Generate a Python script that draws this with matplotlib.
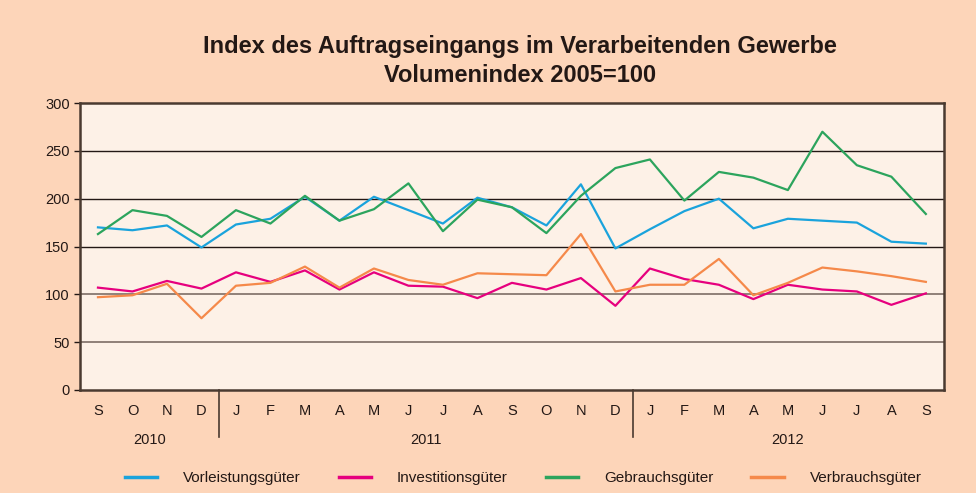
import matplotlib.pyplot as plt
import matplotlib.transforms as mtransforms

plt.rcParams['font.family'] = ['Liberation Sans', 'DejaVu Sans']

monate = ['S', 'O', 'N', 'D',
          'J', 'F', 'M', 'A', 'M', 'J', 'J', 'A', 'S', 'O', 'N', 'D',
          'J', 'F', 'M', 'A', 'M', 'J', 'J', 'A', 'S']
jahre = ['2010', '2011', '2012']

vorleistung = [170, 167, 172, 149, 173, 179, 202, 177, 202, 188, 174, 201, 191, 172, 215, 148,
               168, 187, 200, 169, 179, 177, 175, 155, 153]
investition = [107, 103, 114, 106, 123, 113, 125, 105, 123, 109, 108, 96, 112, 105, 117, 88,
               127, 116, 110, 95, 110, 105, 103, 89, 101]
gebrauch = [163, 188, 182, 160, 188, 174, 203, 177, 189, 216, 166, 199, 191, 164, 203, 232,
            241, 198, 228, 222, 209, 270, 235, 223, 184]
verbrauch = [97, 99, 111, 75, 109, 112, 129, 107, 127, 115, 110, 122, 121, 120, 163, 103,
             110, 110, 137, 99, 112, 128, 124, 119, 113]

serien = [
    ('Vorleistungsgüter', vorleistung, '#1aa3dc'),
    ('Investitionsgüter', investition, '#e6007e'),
    ('Gebrauchsgüter', gebrauch, '#2ca45d'),
    ('Verbrauchsgüter', verbrauch, '#f5894a'),
]

fig = plt.figure(figsize=(9.76, 4.93), dpi=100, facecolor='#fdd5b9')
ax = fig.add_axes([0.082, 0.209, 0.885, 0.582])
ax.set_facecolor('#fdf1e7')

x = list(range(len(monate)))

# Gitterlinien
for y in [250, 200, 150]:
    ax.axhline(y, color='#231815', lw=1.0, zorder=1)
for y in [100, 50]:
    ax.axhline(y, color='#7d6e66', lw=1.2, zorder=1)

for name, werte, farbe in serien:
    ax.plot(x, werte, color=farbe, lw=1.6, label=name, zorder=3)

ax.set_xlim(-0.52, 24.52)
ax.set_ylim(0, 300)
ax.set_yticks(range(0, 301, 50))
ax.set_xticks(x)
ax.set_xticklabels(monate)
ax.tick_params(axis='x', length=0, pad=10, labelsize=10.5, colors='#231815')
ax.tick_params(axis='y', length=4, width=1, labelsize=10.5, colors='#231815')

for s in ax.spines.values():
    s.set_color('#4a3a30')
    s.set_linewidth(1.8)

# Jahrestrenner und Jahreszahlen
trans = mtransforms.blended_transform_factory(ax.transData, ax.transAxes)
for xs in [3.5, 15.5]:
    ax.plot([xs, xs], [0, -0.165], transform=trans, color='#4a3a30', lw=1.2, clip_on=False)
for xpos, jahr in zip([1.5, 9.5, 20], jahre):
    ax.text(xpos, -0.175, jahr, transform=trans, ha='center', va='center', fontsize=10.5,
            color='#231815')

fig.text(0.533, 0.876, 'Index des Auftragseingangs im Verarbeitenden Gewerbe\nVolumenindex 2005=100',
         ha='center', va='center', fontsize=17, fontweight='bold', color='#231815', linespacing=1.3)

leg = fig.legend(loc='center', bbox_to_anchor=(0.536, 0.03), ncol=4, frameon=False,
                 handlelength=2.1, handletextpad=1.7, columnspacing=2.5, fontsize=11,
                 labelcolor='#231815')
for linie in leg.get_lines():
    linie.set_linewidth(2.5)

plt.savefig('out.png', dpi=100, facecolor=fig.get_facecolor())
